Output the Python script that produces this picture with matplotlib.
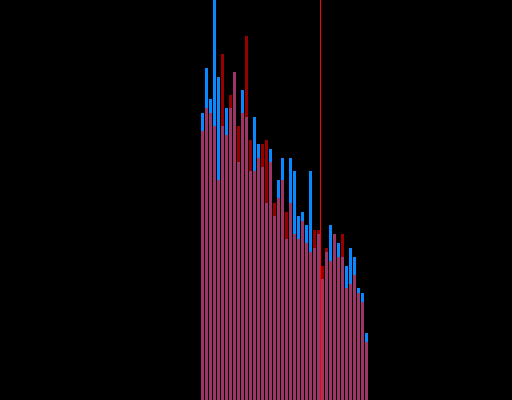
"""Overlapping histograms of two groups, with a marker line, on black."""

import matplotlib

matplotlib.use("Agg")

import matplotlib.pyplot as plt
import numpy as np

# bin layout (value of first bin's left edge, bin width)
bin_start = 50.25
bin_width = 1.0

# counts per bin
counts_blue = [287, 332, 301, 404, 323, 274, 292, 292, 328, 238, 310, 283, 229, 283,
               256, 233, 197, 251, 184, 220, 242, 161, 242, 229, 184, 188, 175, 229,
               152, 166, 121, 148, 175, 166, 157, 143, 134, 152, 143, 112, 107, 67]
counts_red = [269, 292, 287, 274, 220, 346, 265, 305, 328, 274, 287, 364, 260, 229,
              242, 256, 260, 238, 197, 202, 220, 188, 197, 166, 161, 179, 157, 148,
              170, 170, 134, 152, 139, 166, 143, 166, 112, 116, 125, 107, 98, 58]
marker_x = 80.125

x_min, x_max = 0, 128
y_max = 400

edges = bin_start + bin_width * np.arange(len(counts_blue))

fig = plt.figure(figsize=(5.12, 4.0), dpi=100, facecolor="black")
ax = fig.add_axes([0, 0, 1, 1])
ax.set_facecolor("black")

ax.bar(edges, counts_blue, width=0.75 * bin_width, align="edge",
       color="#0a88ff", linewidth=0, antialiased=False)
ax.bar(edges, counts_red, width=0.75 * bin_width, align="edge",
       color="#ff0000", alpha=0.6, linewidth=0, antialiased=False)
# marker line: one pixel wide, drawn as a thin span
ax.axvspan(marker_x - 0.125, marker_x + 0.125, color="#ff0000",
           linewidth=0, antialiased=False)

ax.set_xlim(x_min, x_max)
ax.set_ylim(0, y_max)
ax.axis("off")

fig.savefig("out.png", dpi=100, facecolor="black")
plt.close(fig)
